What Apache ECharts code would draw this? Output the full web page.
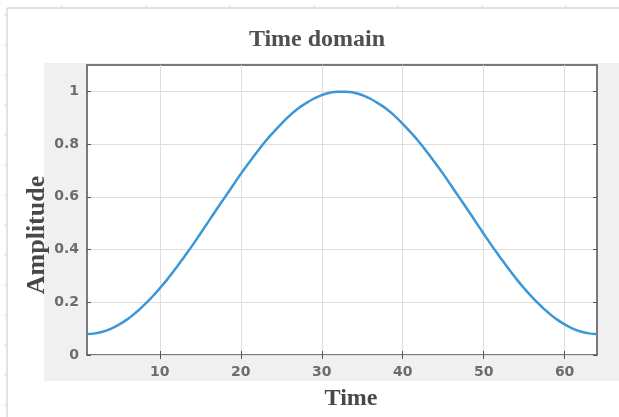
<!DOCTYPE html>
<html>
<head>
<meta charset="utf-8">
<script src="https://cdn.jsdelivr.net/npm/echarts@6/dist/echarts.min.js"></script>
<style>html,body{margin:0;padding:0;background:#fff;}#c{width:619px;height:417px;}</style>
</head>
<body>
<div id="c"></div>
<script>
// Sample index (time) and amplitude values
var timeIdx = [];
for (var i = 1; i <= 64; i++) timeIdx.push(i);
var amplitude = [
  0.080, 0.082, 0.089, 0.100, 0.116, 0.136, 0.160, 0.188, 0.219, 0.253, 0.290, 0.330, 0.372, 0.415, 0.460, 0.506,
  0.552, 0.597, 0.642, 0.687, 0.729, 0.770, 0.809, 0.844, 0.877, 0.907, 0.933, 0.954, 0.972, 0.986, 0.995, 0.999,
  0.999, 0.995, 0.986, 0.972, 0.954, 0.933, 0.907, 0.877, 0.844, 0.809, 0.770, 0.729, 0.687, 0.642, 0.597, 0.552,
  0.506, 0.460, 0.415, 0.372, 0.330, 0.290, 0.253, 0.219, 0.188, 0.160, 0.136, 0.116, 0.100, 0.089, 0.082, 0.080
];
var xTicks = [10, 20, 30, 40, 50, 60];
var yTicks = [0, 0.2, 0.4, 0.6, 0.8, 1];
var titleText = 'Time domain';
var xName = 'Time';
var yName = 'Amplitude';

var chart = echarts.init(document.getElementById('c'), null, {renderer: 'canvas'});

var labelStyle = {color: '#6c6c6c', fontFamily: 'DejaVu Sans', fontWeight: 'bold', fontSize: 14};
var gridLine = {show: true, lineStyle: {color: '#dedede', width: 1}};
var tickStyle = {show: true, inside: true, length: 4, lineStyle: {color: '#555', width: 1}};

var deco = [];
deco.push({type: 'rect', z: -10, shape: {x: 44, y: 63, width: 575, height: 318}, style: {fill: '#f0f0f0'}});
deco.push({type: 'line', z: -5, shape: {x1: 7, y1: 8, x2: 619, y2: 8}, style: {stroke: '#dadada', lineWidth: 1.5}});
deco.push({type: 'line', z: -5, shape: {x1: 7, y1: 8, x2: 7, y2: 417}, style: {stroke: '#dadada', lineWidth: 1.5}});
for (var tx = 62; tx < 619; tx += 84) deco.push({type: 'line', z: -5, shape: {x1: tx, y1: 5, x2: tx, y2: 8}, style: {stroke: '#dadada', lineWidth: 1}});
for (var ty = 15; ty < 417; ty += 30) deco.push({type: 'line', z: -5, shape: {x1: 4, y1: ty, x2: 7, y2: ty}, style: {stroke: '#dadada', lineWidth: 1}});
deco.push({type: 'text', x: 317, y: 40, style: {text: titleText, font: 'bold 24px "Liberation Serif"', fill: '#505050', align: 'center', verticalAlign: 'middle'}});
deco.push({type: 'text', x: 351, y: 399, style: {text: xName, font: 'bold 24px "Liberation Serif"', fill: '#484848', align: 'center', verticalAlign: 'middle'}});
deco.push({type: 'text', x: 37, y: 235, rotation: Math.PI / 2, style: {text: yName, font: 'bold 26px "Liberation Serif"', fill: '#484848', align: 'center', verticalAlign: 'middle'}});

chart.setOption({
  animation: false,
  backgroundColor: '#fff',
  graphic: deco,
  grid: {left: 87, right: 22, top: 65, bottom: 62, show: true, backgroundColor: '#fff', borderColor: '#505050', borderWidth: 1.5, z: 0},
  xAxis: [
    {type: 'value', min: 1, max: 64, position: 'bottom',
     axisLine: {show: false},
     axisTick: Object.assign({customValues: xTicks}, tickStyle),
     axisLabel: Object.assign({customValues: xTicks, margin: 10}, labelStyle),
     splitLine: Object.assign({customValues: xTicks}, gridLine)},
    {type: 'value', min: 1, max: 64, position: 'top',
     axisLine: {show: false},
     axisTick: Object.assign({customValues: xTicks}, tickStyle),
     axisLabel: {show: false}, splitLine: {show: false}}
  ],
  yAxis: [
    {type: 'value', min: 0, max: 1.1, position: 'left',
     axisLine: {show: false},
     axisTick: Object.assign({customValues: yTicks}, tickStyle),
     axisLabel: Object.assign({customValues: yTicks, margin: 8}, labelStyle),
     splitLine: Object.assign({customValues: yTicks}, gridLine)},
    {type: 'value', min: 0, max: 1.1, position: 'right',
     axisLine: {show: false},
     axisTick: Object.assign({customValues: yTicks}, tickStyle),
     axisLabel: {show: false}, splitLine: {show: false}}
  ],
  series: [{
    type: 'line', xAxisIndex: 0, yAxisIndex: 0,
    data: timeIdx.map(function (t, k) { return [t, amplitude[k]]; }),
    smooth: true, showSymbol: false,
    lineStyle: {color: '#3b97d6', width: 2.5},
    z: 5
  }]
});
</script>
</body>
</html>
